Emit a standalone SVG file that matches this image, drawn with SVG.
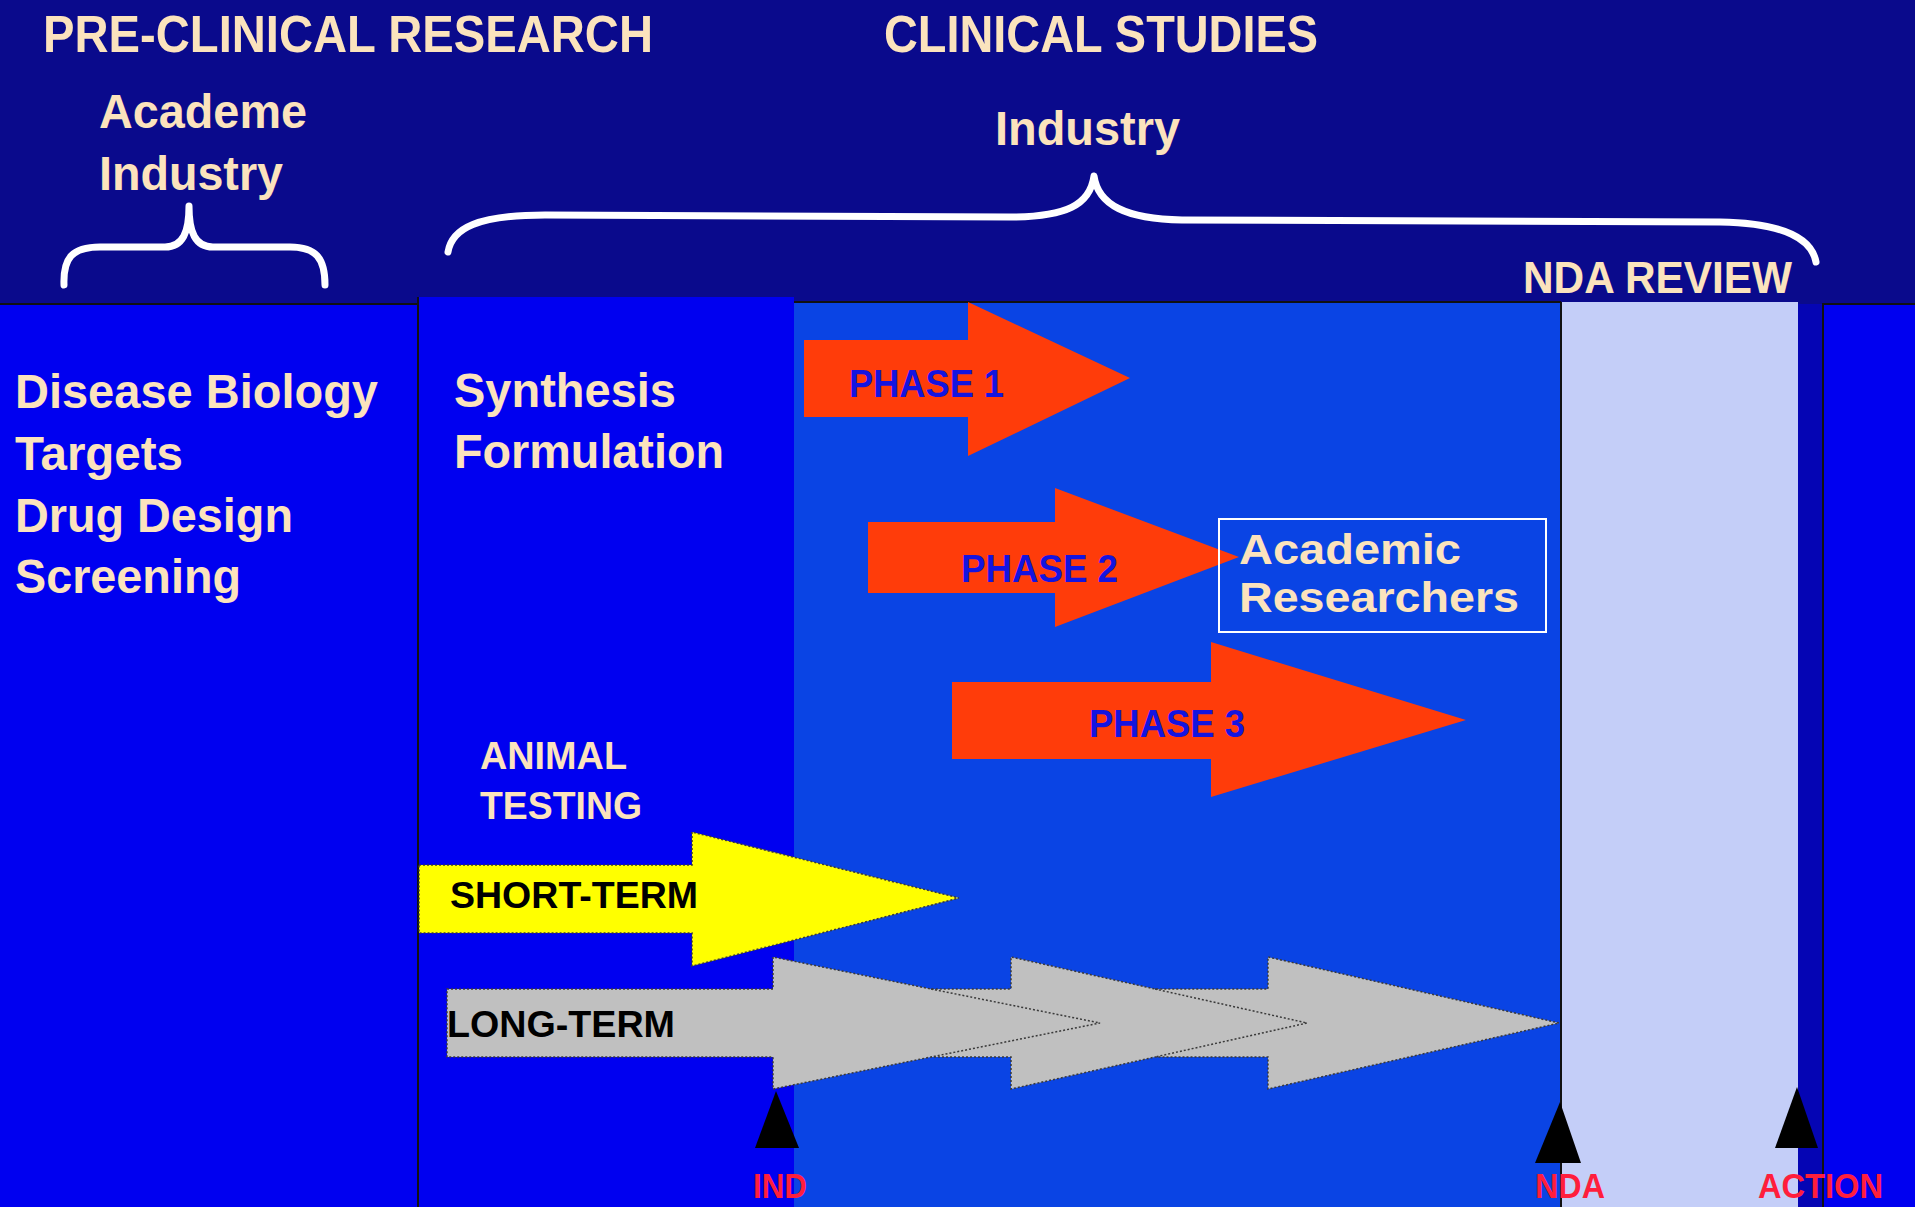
<svg xmlns="http://www.w3.org/2000/svg" width="1915" height="1207" viewBox="0 0 1915 1207">
<style>
.cream{fill:#FBE3BD;font-family:"Liberation Sans",Arial,sans-serif;font-weight:bold}
.phase{fill:#FF3C0A}
.ptxt{fill:#1414E0;font-family:"Liberation Sans",Arial,sans-serif;font-weight:bold;font-size:38px}
.btxt{fill:#000;font-family:"Liberation Sans",Arial,sans-serif;font-weight:bold;font-size:37px}
.rtxt{fill:#FF1E3C;font-family:"Liberation Sans",Arial,sans-serif;font-weight:bold;font-size:35px}
.brace{fill:none;stroke:#FFFFFF;stroke-width:7;stroke-linecap:round;stroke-linejoin:round}
.dot{stroke:#3a3a3a;stroke-width:1.5;stroke-dasharray:2 2}
.tri{fill:#000}
</style>
<rect x="0" y="0" width="1915" height="1207" fill="#0A0A8C"/>

<g id="panel-discovery">
<rect x="-2" y="304" width="420" height="905" fill="#0000F0" stroke="#111" stroke-width="2"/>
<text class="cream" font-size="48"><tspan x="15" y="408" textLength="363" lengthAdjust="spacingAndGlyphs">Disease Biology</tspan><tspan x="15" y="470" textLength="168" lengthAdjust="spacingAndGlyphs">Targets</tspan><tspan x="15" y="532" textLength="278" lengthAdjust="spacingAndGlyphs">Drug Design</tspan><tspan x="15" y="593" textLength="226" lengthAdjust="spacingAndGlyphs">Screening</tspan></text>
</g>

<g id="panel-preclinical">
<rect x="419" y="297" width="375" height="912" fill="#0000F0"/>
<line x1="418" y1="297" x2="418" y2="1207" stroke="#111" stroke-width="2"/>
<text class="cream" font-size="48"><tspan x="454" y="407" textLength="222" lengthAdjust="spacingAndGlyphs">Synthesis</tspan><tspan x="454" y="468" textLength="270" lengthAdjust="spacingAndGlyphs">Formulation</tspan></text>
<text class="cream" font-size="38"><tspan x="480" y="769" textLength="147" lengthAdjust="spacingAndGlyphs">ANIMAL</tspan><tspan x="480" y="819" textLength="162" lengthAdjust="spacingAndGlyphs">TESTING</tspan></text>
</g>

<g id="panel-clinical">
<rect x="794" y="302" width="767" height="907" fill="#0A44E4"/>
<line x1="794" y1="302" x2="1561" y2="302" stroke="#111" stroke-width="2"/>
</g>

<g id="panel-nda-review">
<rect x="1562" y="302" width="236" height="907" fill="#C4CEF8"/>
<line x1="1561" y1="302" x2="1561" y2="1207" stroke="#111" stroke-width="2"/>
<rect x="1798" y="304" width="25" height="905" fill="#0505B4"/>
</g>

<g id="panel-post">
<rect x="1823" y="304" width="94" height="905" fill="#0000F0" stroke="#111" stroke-width="2"/>
</g>

<g id="title-preclinical">
<text class="cream" font-size="52" x="43" y="52" textLength="610" lengthAdjust="spacingAndGlyphs">PRE-CLINICAL RESEARCH</text>
<text class="cream" font-size="49"><tspan x="99" y="128" textLength="208" lengthAdjust="spacingAndGlyphs">Academe</tspan><tspan x="99" y="190" textLength="184" lengthAdjust="spacingAndGlyphs">Industry</tspan></text>
</g>

<g id="title-clinical">
<text class="cream" font-size="52" x="884" y="52" textLength="434" lengthAdjust="spacingAndGlyphs">CLINICAL STUDIES</text>
<text class="cream" font-size="49" x="995" y="145" textLength="185" lengthAdjust="spacingAndGlyphs">Industry</text>
</g>

<g id="title-nda">
<text class="cream" font-size="44" x="1523" y="293" textLength="269" lengthAdjust="spacingAndGlyphs">NDA REVIEW</text>
</g>

<g id="braces">
<path class="brace" d="M64,285 C63,258 72,247 100,247 L165,247 C183,247 189,232 189,206 C189,232 195,247 213,247 L290,247 C316,247 325,258 325,285"/>
<path class="brace" d="M448,252 C452,228 478,215 545,215 L1010,217 C1066,217 1090,205 1094,176 C1098,205 1126,219 1182,220 L1720,222 C1786,223 1812,240 1816,262"/>
</g>

<g id="phase1">
<polygon class="phase" points="804,340 968,340 968,302 1130,378 968,456 968,417 804,417"/>
<text class="ptxt" x="849" y="397" textLength="155" lengthAdjust="spacingAndGlyphs">PHASE 1</text>
</g>

<g id="phase2">
<polygon class="phase" points="868,522 1055,522 1055,488 1239,557 1055,627 1055,593 868,593"/>
<text class="ptxt" x="961" y="582" textLength="157" lengthAdjust="spacingAndGlyphs">PHASE 2</text>
</g>

<g id="phase3">
<polygon class="phase" points="952,682 1211,682 1211,642 1466,720 1211,797 1211,759 952,759"/>
<text class="ptxt" x="1089" y="737" textLength="156" lengthAdjust="spacingAndGlyphs">PHASE 3</text>
</g>

<g id="academic-researchers">
<rect x="1219" y="519" width="327" height="113" fill="none" stroke="#FFFFFF" stroke-width="2"/>
<text class="cream" font-size="42"><tspan x="1239" y="564" textLength="222" lengthAdjust="spacingAndGlyphs">Academic</tspan><tspan x="1239" y="612" textLength="280" lengthAdjust="spacingAndGlyphs">Researchers</tspan></text>
</g>

<g id="short-term">
<polygon class="dot" fill="#FFFF00" points="419,865 692,865 692,832 959,898 692,966 692,933 419,933"/>
<text class="btxt" x="450" y="908" textLength="248" lengthAdjust="spacingAndGlyphs">SHORT-TERM</text>
</g>

<g id="long-term">
<polygon class="dot" fill="#C0C0C0" points="447,989 773,989 773,957 931,989 1011,989 1011,957 1155,989 1268,989 1268,957 1559,1023 1268,1089 1268,1057 1155,1057 1011,1089 1011,1057 931,1057 773,1089 773,1057 447,1057"/>
<polyline class="dot" fill="none" points="931,989 1100,1023 931,1057"/>
<polyline class="dot" fill="none" points="1155,989 1307,1023 1155,1057"/>
<text class="btxt" x="447" y="1037" textLength="228" lengthAdjust="spacingAndGlyphs">LONG-TERM</text>
</g>

<g id="ind">
<polygon class="tri" points="776,1091 799,1148 755,1148"/>
<text class="rtxt" x="753" y="1198" textLength="54" lengthAdjust="spacingAndGlyphs">IND</text>
</g>

<g id="nda">
<polygon class="tri" points="1560,1102 1581,1163 1535,1163"/>
<text class="rtxt" x="1535" y="1198" textLength="70" lengthAdjust="spacingAndGlyphs">NDA</text>
</g>

<g id="action">
<polygon class="tri" points="1797,1087 1818,1148 1775,1148"/>
<text class="rtxt" x="1758" y="1198" textLength="125" lengthAdjust="spacingAndGlyphs">ACTION</text>
</g>

<g id="connectors"></g>
</svg>
